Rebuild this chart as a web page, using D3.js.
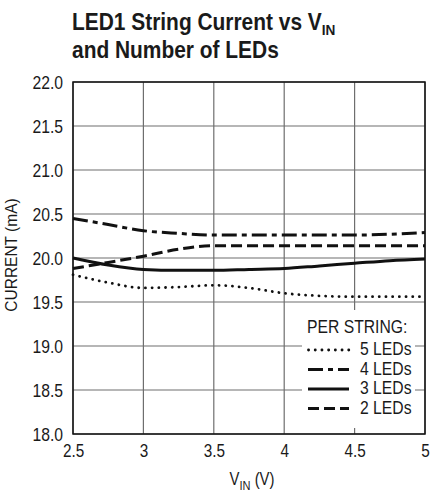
<!DOCTYPE html>
<html>
<head>
<meta charset="utf-8">
<script src="https://cdn.jsdelivr.net/npm/d3@7"></script>
<style>
  body { margin: 0; background: #fff; }
  svg text { font-family: "Liberation Sans", Arial, sans-serif; fill: #1a1a1a; }
</style>
</head>
<body>
<div id="chart"></div>
<script>
// input voltage samples (V)
var vin = [2.5, 2.75, 3.0, 3.25, 3.5, 3.75, 4.0, 4.25, 4.5, 4.75, 5.0];

// string current (mA), one array per LED count
var leds5 = [19.81, 19.72, 19.66, 19.67, 19.69, 19.66, 19.60, 19.57, 19.56, 19.56, 19.56];
var leds4 = [20.45, 20.38, 20.31, 20.28, 20.26, 20.26, 20.26, 20.26, 20.26, 20.27, 20.29];
var leds3 = [20.00, 19.92, 19.87, 19.86, 19.86, 19.87, 19.88, 19.91, 19.94, 19.97, 19.99];
var leds2 = [19.88, 19.95, 20.02, 20.10, 20.14, 20.14, 20.14, 20.14, 20.14, 20.14, 20.14];

var xTicks = [2.5, 3, 3.5, 4, 4.5, 5];
var xTickLabels = ["2.5", "3", "3.5", "4", "4.5", "5"];
var yTicks = [18, 18.5, 19, 19.5, 20, 20.5, 21, 21.5, 22];

var seriesNames = ["5 LEDs", "4 LEDs", "3 LEDs", "2 LEDs"];
var seriesData = [leds5, leds4, leds3, leds2];
var dashes = ["0.1,6.6", "15,5,5,5", null, "11,5"];

var margin = {top: 82, right: 5, bottom: 60, left: 73},
    width = 430 - margin.left - margin.right,
    height = 494 - margin.top - margin.bottom;

var K = 0.85; // horizontal squeeze to mimic the condensed face

// squeeze a text element horizontally around its own anchor point
function squeeze(sel, k) {
  sel.each(function(){
    var t = d3.select(this);
    var tx = +t.attr("x") || 0, ty = +t.attr("y") || 0;
    t.attr("x", 0).attr("y", 0)
     .attr("transform", "translate(" + tx + "," + ty + ") scale(" + k + ",1)");
  });
}

var svg = d3.select("#chart").append("svg")
    .attr("width", 430)
    .attr("height", 494);

// title
var title = svg.append("text")
    .attr("x", 72)
    .attr("y", 30)
    .style("font-size", "23px")
    .style("font-weight", "bold");
title.append("tspan").text("LED1 String Current vs V");
title.append("tspan").attr("dy", 5).style("font-size", "15px").text("IN");
var title2 = svg.append("text")
    .attr("x", 72)
    .attr("y", 58)
    .style("font-size", "23px")
    .style("font-weight", "bold")
    .text("and Number of LEDs");
squeeze(title, 0.91);
squeeze(title2, 0.91);

var g = svg.append("g")
    .attr("transform", "translate(" + margin.left + "," + margin.top + ")");

var x = d3.scaleLinear().domain([2.5, 5]).range([0, width]);
var y = d3.scaleLinear().domain([18, 22]).range([height, 0]);

// grid
g.append("g")
    .selectAll("line")
    .data(xTicks)
    .enter().append("line")
    .attr("x1", function(d){ return x(d); })
    .attr("x2", function(d){ return x(d); })
    .attr("y1", 0)
    .attr("y2", height)
    .style("stroke", "#6e6e6e")
    .style("stroke-width", 1.2);

g.append("g")
    .selectAll("line")
    .data(yTicks)
    .enter().append("line")
    .attr("x1", 0)
    .attr("x2", width)
    .attr("y1", function(d){ return y(d); })
    .attr("y2", function(d){ return y(d); })
    .style("stroke", "#6e6e6e")
    .style("stroke-width", 1.2);

// axes (labels only)
var xAxis = g.append("g")
    .attr("transform", "translate(0," + height + ")")
    .call(d3.axisBottom(x).tickValues(xTicks).tickSize(0).tickPadding(0)
        .tickFormat(function(d, i){ return xTickLabels[i]; }));
xAxis.select(".domain").remove();
xAxis.selectAll("text")
    .style("font-size", "18px")
    .attr("y", 23).attr("dy", null);
squeeze(xAxis.selectAll("text"), K);

var yAxis = g.append("g")
    .call(d3.axisLeft(y).tickValues(yTicks).tickSize(0).tickPadding(0)
        .tickFormat(d3.format(".1f")));
yAxis.select(".domain").remove();
yAxis.selectAll("text")
    .style("font-size", "18.5px")
    .attr("x", -10).attr("y", 6.5).attr("dy", null);
squeeze(yAxis.selectAll("text"), K);

// legend background (covers grid)
var legend = g.append("g").attr("transform", "translate(229,228)");
legend.append("rect")
    .attr("x", 0).attr("y", 0)
    .attr("width", 113).attr("height", 118)
    .style("fill", "#fff");

// curves
var line = d3.line()
    .x(function(d, i){ return x(vin[i]); })
    .y(function(d){ return y(d); })
    .curve(d3.curveMonotoneX);

g.append("g")
    .selectAll("path")
    .data(seriesData)
    .enter().append("path")
    .attr("d", line)
    .style("fill", "none")
    .style("stroke", "#111")
    .style("stroke-width", function(d, i){ return i == 0 ? 2.8 : 3; })
    .style("stroke-linecap", function(d, i){ return i == 0 ? "round" : "butt"; })
    .style("stroke-dasharray", function(d, i){ return dashes[i]; });

// outer frame
g.append("rect")
    .attr("width", width)
    .attr("height", height)
    .style("fill", "none")
    .style("stroke", "#111")
    .style("stroke-width", 1.5);

var lt = legend.append("text")
    .attr("x", 5).attr("y", 23)
    .style("font-size", "18.5px")
    .text("PER STRING:");
squeeze(lt, K);

var rows = legend.selectAll(".row")
    .data(seriesNames)
    .enter().append("g")
    .attr("class", "row")
    .attr("transform", function(d, i){ return "translate(0," + (45 + i * 19.5) + ")"; });

rows.append("line")
    .attr("x1", function(d, i){ return i == 0 ? 6.5 : 6; })
    .attr("x2", 47)
    .attr("y1", -5).attr("y2", -5)
    .style("stroke", "#111")
    .style("stroke-width", function(d, i){ return i == 0 ? 2.8 : 3; })
    .style("stroke-linecap", function(d, i){ return i == 0 ? "round" : "butt"; })
    .style("stroke-dasharray", function(d, i){ return dashes[i]; });

rows.append("text")
    .attr("x", 58).attr("y", 0)
    .style("font-size", "18.5px")
    .text(function(d){ return d; });
squeeze(rows.selectAll("text"), K);

// axis titles
var xt = svg.append("text")
    .attr("x", 252)
    .attr("y", 485)
    .attr("text-anchor", "middle")
    .style("font-size", "17.5px");
xt.append("tspan").text("V");
xt.append("tspan").attr("dy", 5).style("font-size", "13px").text("IN");
xt.append("tspan").attr("dy", -5).text(" (V)");
squeeze(xt, K);

var yt = svg.append("text")
    .attr("x", 0).attr("y", 0)
    .attr("text-anchor", "middle")
    .style("font-size", "16.5px")
    .text("CURRENT (mA)");
yt.attr("transform", "translate(17,255) rotate(-90) scale(0.94,1)");
</script>
</body>
</html>
